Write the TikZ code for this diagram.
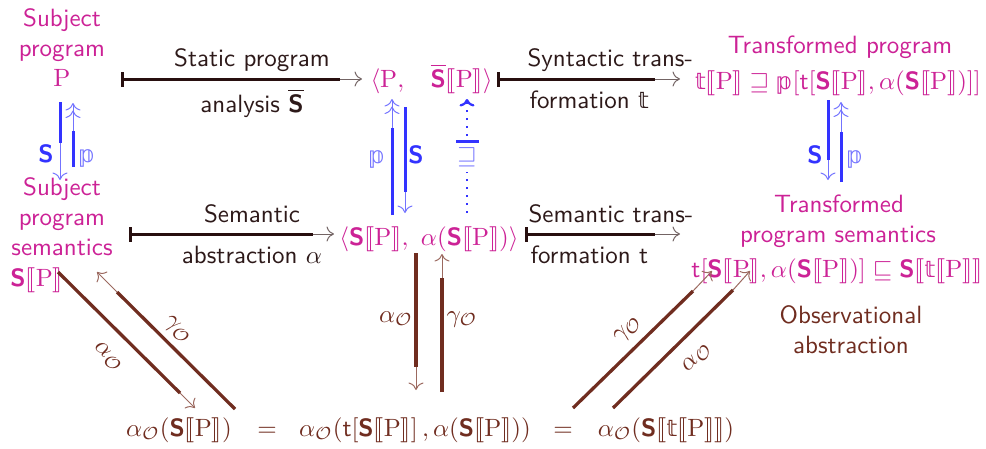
\documentclass[tikz,border=0pt]{standalone}
\usepackage{amssymb}
\usepackage{stmaryrd}
\usepackage{fontspec}
\newfontfamily\dvsbb[Scale=0.92]{DejaVu Sans}
\usetikzlibrary{arrows.meta}
\renewcommand{\familydefault}{\sfdefault}
\definecolor{mag}{RGB}{204,34,150}
\definecolor{bl}{RGB}{51,51,255}
\definecolor{blt}{RGB}{115,115,255}
\definecolor{dk}{RGB}{40,15,15}
\definecolor{dkt}{RGB}{115,100,100}
\definecolor{br}{RGB}{112,45,32}
\definecolor{brt}{RGB}{155,105,95}
\definecolor{txt}{RGB}{45,25,25}
\newcommand\semS{\mbox{\bfseries\sffamily S}}
\newcommand\sbr[1]{\llbracket #1\rrbracket}
\newcommand\Pp{\mathrm{P}}
\newcommand\bbt{\mbox{\dvsbb 𝕥}}
\newcommand\bbp{\mbox{\dvsbb 𝕡}}
\newcommand\tsf{\mbox{\sffamily t}}
\newcommand\aO{\alpha_{\mathcal{O}}}
\newcommand\gO{\gamma_{\mathcal{O}}}
\tikzset{
  lbl/.style={inner sep=0pt, anchor=base},
  lw/.style={inner sep=0pt, anchor=base west},
  tip/.style={-{To[length=3pt,width=6pt]}},
  tiptwo/.style={-{To[length=3pt,width=6pt]To[length=3pt,width=6pt]}},
  dkthick/.style={draw=dk, line width=1.2pt, {Bar[width=6pt]}-},
  dkthin/.style={draw=dkt, line width=0.4pt, tip},
  blthick/.style={draw=bl, line width=1.2pt},
  blthin/.style={draw=blt, line width=0.4pt},
  brthick/.style={draw=br, line width=1.3pt},
  brthin/.style={draw=brt, line width=0.4pt, tip},
  bldot/.style={draw=bl, line width=0.9pt, dash pattern=on 0.8pt off 2.4pt},
}
\begin{document}
\begin{tikzpicture}[x=0.4pt,y=-0.4pt]
\useasboundingbox (0,0) rectangle (986,448);

% ---- top-left: subject program
\node[lbl, text=mag] (s1) at (62,26) {Subject};
\node[lbl, text=mag] (s2) at (62,56) {program};
\node[lbl, text=mag] (s3) at (62,86) {$\Pp$};

% ---- arrow 1 labels
\node[lbl, text=txt] (la1) at (252,66) {Static program};
\node[lbl, text=txt] (la2) at (252,112) {analysis $\overline{\semS}$};

% ---- top middle
\node[lw, text=mag] (pP) at (370,87) {$\langle\Pp,$};
\node[lw, text=mag] (pS) at (430,87) {$\overline{\semS}\sbr{\Pp}\rangle$};

% ---- arrow 2 labels
\node[lw, text=txt] (la3) at (527,66) {Syntactic trans-};
\node[lw, text=txt] (la4) at (529,108) {formation $\bbt$};

% ---- top right
\node[lbl, text=mag] (t1) at (840,53) {Transformed program};
\node[lbl, text=mag] (t2) at (838,89) {$\bbt\sbr{\Pp} \sqsupseteq \bbp[\tsf[\semS\sbr{\Pp}, \alpha(\semS\sbr{\Pp})]]$};

% ---- vertical labels
\node[lbl, text=bl] (vl1) at (46,162) {$\semS$};
\node[lbl, text=blt] (vl2) at (87,162) {$\bbp$};
\node[lbl, text=blt] (vm1) at (377,163) {$\bbp$};
\node[lbl, text=bl] (vm2) at (416,163) {$\semS$};
\node[lbl, text=blt] (vm3) at (467,163) {$\sqsupseteq$};
\node[lbl, text=bl] (vr1) at (815,163) {$\semS$};
\node[lbl, text=blt] (vr2) at (855,163) {$\bbp$};

% ---- middle-left
\node[lbl, text=mag] (m1) at (62,195) {Subject};
\node[lbl, text=mag] (m2) at (62,225) {program};
\node[lbl, text=mag] (m3) at (62,255) {semantics};
\node[lw, text=mag] (m4) at (10,286) {$\semS\sbr{\Pp}$};

% ---- arrow 3 labels
\node[lbl, text=txt] (la5) at (252,222) {Semantic};
\node[lbl, text=txt] (la6) at (252,263) {abstraction $\alpha$};

% ---- middle
\node[lbl, text=mag] (mid) at (429,245) {$\langle\semS\sbr{\Pp},\ \alpha(\semS\sbr{\Pp})\rangle$};

% ---- arrow 4 labels
\node[lw, text=txt] (la7) at (528,222) {Semantic trans-};
\node[lw, text=txt] (la8) at (530,263) {formation \tsf};

% ---- middle right
\node[lbl, text=mag] (r1) at (839,212) {Transformed};
\node[lbl, text=mag] (r2) at (838,242) {program semantics};
\node[lbl, text=mag] (r3) at (837,277) {$\tsf[\semS\sbr{\Pp}, \alpha(\semS\sbr{\Pp})] \sqsubseteq \semS\sbr{\bbt\sbr{\Pp}}$};

\node[lbl, text=br] (o1) at (851,323) {Observational};
\node[lbl, text=br] (o2) at (851,353) {abstraction};

% ---- bottom
\node[lbl, text=br] (b1) at (179,436) {$\aO(\semS\sbr{\Pp})$};
\node[lbl, text=br] (be1) at (267,436) {$=$};
\node[lbl, text=br] (b2) at (415,436) {$\aO(\tsf[\semS\sbr{\Pp}]\,,\alpha(\semS\sbr{\Pp}))$};
\node[lbl, text=br] (be2) at (563,436) {$=$};
\node[lbl, text=br] (b3) at (666,436) {$\aO(\semS\sbr{\bbt\sbr{\Pp}})$};

% ---- brown labels
\node[lbl, text=br] (ml1) at (396,322) {$\aO$};
\node[lbl, text=br] (ml2) at (462,322) {$\gO$};
\node[text=br, inner sep=0pt, rotate=-45] (dl1) at (177,330) {$\gO$};
\node[text=br, inner sep=0pt, rotate=-45] (dl2) at (108,357) {$\aO$};
\node[text=br, inner sep=0pt, rotate=45] (dr1) at (628,330) {$\gO$};
\node[text=br, inner sep=0pt, rotate=45] (dr2) at (697,358) {$\aO$};

% ================= connectors
% horizontal
\coordinate (h1s) at (121,79); \coordinate (h1m) at (340,79); \coordinate (h1e) at (362,79);
\draw[dkthick] (h1s) -- (h1m); \draw[dkthin] (h1m) -- (h1e);
\coordinate (h2s) at (497,79); \coordinate (h2m) at (655,79); \coordinate (h2e) at (680,79);
\draw[dkthick] (h2s) -- (h2m); \draw[dkthin] (h2m) -- (h2e);
\coordinate (h3s) at (129,234); \coordinate (h3m) at (313,234); \coordinate (h3e) at (334,234);
\draw[dkthick] (h3s) -- (h3m); \draw[dkthin] (h3m) -- (h3e);
\coordinate (h4s) at (525,234); \coordinate (h4m) at (655,234); \coordinate (h4e) at (680,234);
\draw[dkthick] (h4s) -- (h4m); \draw[dkthin] (h4m) -- (h4e);

% vertical left
\coordinate (vls) at (60,102); \coordinate (vlm) at (60,143); \coordinate (vle) at (60,180);
\draw[blthick] (vls) -- (vlm); \draw[blthin, tip] (vlm) -- (vle);
\coordinate (vps) at (73,167); \coordinate (vpm) at (73,131); \coordinate (vpe) at (73,103);
\draw[blthick] (vps) -- (vpm); \draw[blthin, tiptwo] (vpm) -- (vpe);

% vertical middle
\coordinate (mps) at (392,215); \coordinate (mpm) at (392,128); \coordinate (mpe) at (392,99);
\draw[blthick] (mps) -- (mpm); \draw[blthin, tiptwo] (mpm) -- (mpe);
\coordinate (mss) at (405,107); \coordinate (msm) at (405,192); \coordinate (mse) at (405,213);
\draw[blthick] (mss) -- (msm); \draw[blthin, tip] (msm) -- (mse);
\coordinate (mds) at (467,213); \coordinate (mdm) at (467,172);
\coordinate (mdn) at (467,136); \coordinate (mde) at (467,99);
\draw[bldot] (mds) -- (mdm);
\draw[bldot, tip] (mdn) -- (mde);
\coordinate (mbl) at (456,141); \coordinate (mbr) at (479,141);
\draw[draw=bl, line width=1.2pt] (mbl) -- (mbr);

% vertical right
\coordinate (rss) at (828,100); \coordinate (rsm) at (828,160); \coordinate (rse) at (828,180);
\draw[blthick] (rss) -- (rsm); \draw[blthin, tip] (rsm) -- (rse);
\coordinate (rps) at (841,182); \coordinate (rpm) at (841,132); \coordinate (rpe) at (841,102);
\draw[blthick] (rps) -- (rpm); \draw[blthin, tiptwo] (rpm) -- (rpe);

% brown left diagonal
\coordinate (lds) at (58,272); \coordinate (ldm) at (180,393); \coordinate (lde) at (195,408);
\draw[brthick] (lds) -- (ldm); \draw[brthin] (ldm) -- (lde);
\coordinate (lgs) at (235,409); \coordinate (lgm) at (117,292); \coordinate (lge) at (97,272);
\draw[brthick] (lgs) -- (lgm); \draw[brthin] (lgm) -- (lge);

% brown middle
\coordinate (mas) at (416,253); \coordinate (mam) at (416,367); \coordinate (mae) at (416,390);
\draw[brthick] (mas) -- (mam); \draw[brthin] (mam) -- (mae);
\coordinate (mgs) at (442,392); \coordinate (mgm) at (442,278); \coordinate (mge) at (442,254);
\draw[brthick] (mgs) -- (mgm); \draw[brthin] (mgm) -- (mge);

% brown right diagonal
\coordinate (rgs) at (573,408); \coordinate (rgm) at (693,291); \coordinate (rge) at (712,271);
\draw[brthick] (rgs) -- (rgm); \draw[brthin] (rgm) -- (rge);
\coordinate (ras) at (613,408); \coordinate (ram) at (733,290); \coordinate (rae) at (750,271);
\draw[brthick] (ras) -- (ram); \draw[brthin] (ram) -- (rae);
\end{tikzpicture}
\end{document}
